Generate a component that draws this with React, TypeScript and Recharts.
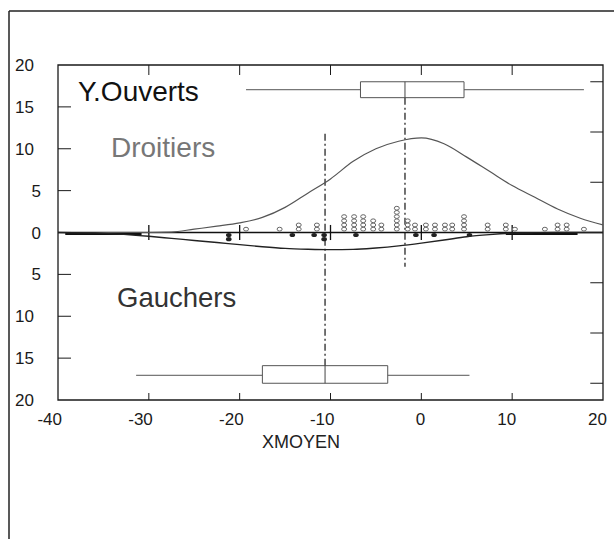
import { ComposedChart, Line, Scatter, XAxis, YAxis, ReferenceLine, ReferenceArea } from 'recharts'

// Répartition de XMOYEN, yeux ouverts : droitiers au-dessus de l'axe, gauchers en dessous.
// Boîtes à moustaches en haut / en bas, courbes normales ajustées et points empilés au centre.

const W = 614
const H = 539
const PLOT_LEFT = 58
const PLOT_TOP = 65
const PLOT_BOTTOM = 400

const xTicks = [-40, -30, -20, -10, 0, 10, 20]
const yTicks = [-20, -15, -10, -5, 0, 5, 10, 15, 20]
// graduations du bord droit (échelle des effectifs)
const densityTicks = [-18, -12, -6, 6, 12, 18]

// courbes normales (droitiers > 0, gauchers < 0)
const curveX = [-40, -35, -30, -27.5, -25, -22.5, -20, -17.5, -15, -12.5, -10, -7.5, -5, -2.5, 0, 2.5, 5, 7.5, 10, 12.5, 15, 17.5, 20]
const droitiersCurve = [0, 0, 0, 0.05, 0.4, 0.75, 1.15, 1.8, 3.0, 4.7, 6.4, 8.5, 10.0, 10.9, 11.3, 10.6, 9.0, 7.3, 5.6, 4.2, 2.8, 1.7, 0.9]
const gauchersCurve = [0, -0.1, -0.45, -0.7, -0.95, -1.2, -1.45, -1.7, -1.9, -2.0, -2.05, -2.02, -1.85, -1.6, -1.27, -0.9, -0.5, -0.25, -0.08, -0.02, 0, 0, 0]

// points individuels : valeur et nombre d'individus empilés
const droitiersX = [-19.3, -15.6, -13.5, -11.5, -8.5, -7.4, -6.4, -5.3, -4.4, -2.7, -1.5, -0.7, 0.5, 1.5, 2.6, 3.4, 4.7, 7.3, 9.3, 10.3, 13.6, 15.0, 16.0, 17.9]
const droitiersCount = [1, 1, 2, 2, 4, 4, 4, 3, 2, 6, 3, 2, 2, 2, 2, 2, 4, 2, 2, 1, 1, 2, 2, 1]
const gauchersX = [-21.2, -14.2, -11.8, -10.7, -7.2, -0.6, 1.4, 5.3]
const gauchersCount = [2, 1, 1, 2, 1, 1, 1, 1]
// zones où les points gauchers se chevauchent le long de l'axe
const gauchersBands = [[-39.2, -30.8], [9.3, 17.2]]

// boîtes : min, Q1, médiane, Q3, max
const droitiersBox = [-19.3, -6.7, -1.8, 4.7, 17.9]
const gauchersBox = [-31.4, -17.5, -10.6, -3.7, 5.3]

// placement vertical des boîtes et des lignes de médiane
const BOX_UP = { lo: 16.1, mid: 17.05, hi: 18.0, lineEnd: -4.1 }
const BOX_DOWN = { lo: -18.0, mid: -17.05, hi: -15.9, lineEnd: 11.9 }
const DOT_BASE = 0.4
const DOT_STEP = 0.5
const EDGE_TICK = 1.4 // longueur des graduations du bord droit, en unités de x

const curveData = curveX.map((x, i) => ({ x, droitiers: droitiersCurve[i], gauchers: gauchersCurve[i] }))

const stack = (xs: number[], counts: number[], dir: number) =>
  xs.flatMap((x, i) =>
    Array.from({ length: counts[i] }, (_, k) => ({ x, y: dir * (DOT_BASE + k * DOT_STEP) }))
  )

const droitiersDots = stack(droitiersX, droitiersCount, 1)
const gauchersDots = stack(gauchersX, gauchersCount, -1).map((d) => ({ ...d, y: d.y + 0.1 }))

const FONT = 'Arial, "Liberation Sans", sans-serif'
const INK = '#1a1a1a'

function XTick({ x, payload }: any) {
  const v = payload.value as number
  const inner = v > -40 && v < 20
  return (
    <g>
      {inner && <line x1={x} x2={x} y1={PLOT_BOTTOM} y2={PLOT_BOTTOM - 7} stroke={INK} />}
      {inner && <line x1={x} x2={x} y1={PLOT_TOP} y2={PLOT_TOP + 10} stroke={INK} />}
      <text x={x + 4} y={425} textAnchor="end" fontSize={17} fontFamily={FONT} fill={INK}>
        {v}
      </text>
    </g>
  )
}

function YTick({ y, payload }: any) {
  const v = payload.value as number
  const label = String(Math.abs(v))
  const inner = v !== 0 && Math.abs(v) < 20
  return (
    <g>
      {inner && <line x1={PLOT_LEFT} x2={PLOT_LEFT + 13} y1={y} y2={y} stroke={INK} />}
      <text x={label.length === 1 ? 41 : 34} y={y + 6} textAnchor="end" fontSize={17} fontFamily={FONT} fill={INK}>
        {label}
      </text>
    </g>
  )
}

const OpenDot = ({ cx, cy }: any) => (
  <ellipse cx={cx} cy={cy} rx={2.5} ry={1.9} fill="#fff" stroke="#666" strokeWidth={1} />
)
const FilledDot = ({ cx, cy }: any) => <ellipse cx={cx} cy={cy} rx={2.8} ry={2.1} fill="#222" />

const boxParts = (b: number[], row: typeof BOX_UP, key: string) => [
  <ReferenceLine key={key + 'w1'} segment={[{ x: b[0], y: row.mid }, { x: b[1], y: row.mid }]} stroke="#555" />,
  <ReferenceLine key={key + 'w2'} segment={[{ x: b[3], y: row.mid }, { x: b[4], y: row.mid }]} stroke="#555" />,
  <ReferenceArea key={key + 'box'} x1={b[1]} x2={b[3]} y1={row.lo} y2={row.hi} fill="#fff" fillOpacity={1} stroke="#555" />,
  <ReferenceLine key={key + 'med'} segment={[{ x: b[2], y: row.lo }, { x: b[2], y: row.hi }]} stroke="#444" />,
]

export default function App() {
  return (
    <div style={{ position: 'absolute', left: 0, top: 0, width: W, height: H, background: '#fff' }}>
      <ComposedChart
        width={W}
        height={H}
        margin={{ top: PLOT_TOP, right: 11, bottom: 109, left: 18 }}
        style={{ position: 'absolute', left: 0, top: 0 }}
      >
        <XAxis
          dataKey="x"
          type="number"
          domain={[-40, 20]}
          ticks={xTicks}
          allowDataOverflow
          axisLine={false}
          tickLine={false}
          height={30}
          tick={<XTick />}
        />
        <YAxis
          type="number"
          domain={[-20, 20]}
          ticks={yTicks}
          allowDataOverflow
          axisLine={false}
          tickLine={false}
          width={40}
          tick={<YTick />}
        />

        <ReferenceArea x1={-40} x2={20} y1={-20} y2={20} fill="none" stroke={INK} strokeWidth={1.3} />
        {densityTicks.map((t) => (
          <ReferenceLine key={'r' + t} segment={[{ x: 20, y: t }, { x: 20 - EDGE_TICK, y: t }]} stroke={INK} />
        ))}

        {boxParts(droitiersBox, BOX_UP, 'd')}
        {boxParts(gauchersBox, BOX_DOWN, 'g')}

        <ReferenceLine
          segment={[{ x: droitiersBox[2], y: BOX_UP.lo }, { x: droitiersBox[2], y: BOX_UP.lineEnd }]}
          stroke="#444"
          strokeWidth={1.5}
          strokeDasharray="7 3 2 3"
        />
        <ReferenceLine
          segment={[{ x: gauchersBox[2], y: BOX_DOWN.hi }, { x: gauchersBox[2], y: BOX_DOWN.lineEnd }]}
          stroke="#444"
          strokeWidth={1.5}
          strokeDasharray="7 3 2 3"
        />

        <ReferenceLine y={0} stroke="#111" strokeWidth={1.5} />
        {xTicks
          .filter((t) => t > -40 && t < 20)
          .map((t) => (
            <ReferenceLine key={'z' + t} segment={[{ x: t, y: -0.9 }, { x: t, y: 0.9 }]} stroke="#111" strokeWidth={1.3} />
          ))}
        {gauchersBands.map(([a, b]) => (
          <ReferenceLine key={'b' + a} segment={[{ x: a, y: -0.15 }, { x: b, y: -0.15 }]} stroke="#111" strokeWidth={2.5} />
        ))}

        <Line
          data={curveData}
          dataKey="droitiers"
          type="monotone"
          stroke="#555"
          strokeWidth={1.2}
          dot={false}
          isAnimationActive={false}
        />
        <Line
          data={curveData}
          dataKey="gauchers"
          type="monotone"
          stroke="#222"
          strokeWidth={1.4}
          dot={false}
          isAnimationActive={false}
        />
        <Scatter data={droitiersDots} dataKey="y" shape={<OpenDot />} isAnimationActive={false} />
        <Scatter data={gauchersDots} dataKey="y" shape={<FilledDot />} isAnimationActive={false} />
      </ComposedChart>

      <svg width={W} height={H} style={{ position: 'absolute', left: 0, top: 0, pointerEvents: 'none' }}>
        <line x1={9} y1={11} x2={W} y2={11} stroke="#222" strokeWidth={1.5} />
        <line x1={9} y1={11} x2={9} y2={H} stroke="#222" strokeWidth={1.5} />
        <text x={78} y={101} fontSize={28} fontFamily={FONT} fill="#111">
          Y.Ouverts
        </text>
        <text x={111} y={157} fontSize={28} fontFamily={FONT} fill="#777">
          Droitiers
        </text>
        <text x={117} y={307} fontSize={27.5} fontFamily={FONT} fill="#333">
          Gauchers
        </text>
        <text x={301} y={448} textAnchor="middle" fontSize={18} fontFamily={FONT} fill="#222">
          XMOYEN
        </text>
      </svg>
    </div>
  )
}
